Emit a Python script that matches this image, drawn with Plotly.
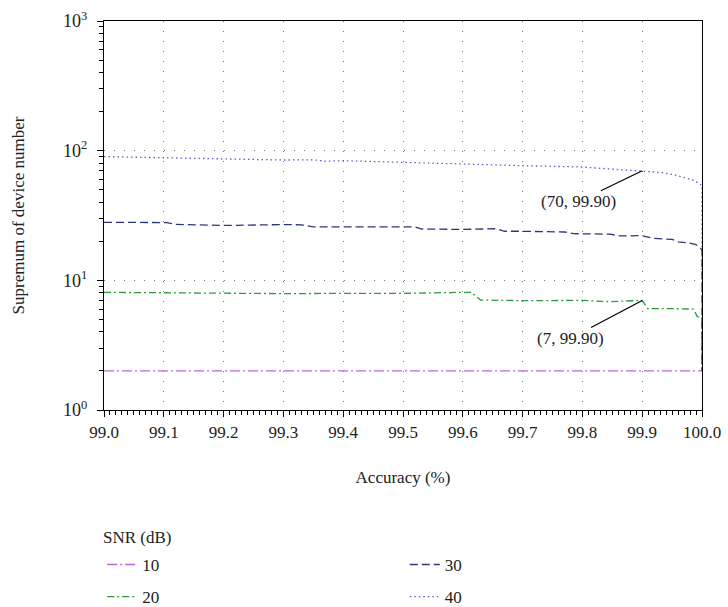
import math
import plotly.graph_objects as go

# Accuracy (%) and supremum of device number for each SNR level
acc_10 = [99.0, 99.5, 100.0]
dev_10 = [2, 2, 2]

acc_20 = [99.0, 99.1, 99.2, 99.3, 99.4, 99.5, 99.6, 99.614, 99.63, 99.7, 99.8, 99.846,
          99.90, 99.909, 99.95, 99.986, 99.992, 100.0, 100.0]
dev_20 = [8.08, 8.0, 7.89, 7.9, 7.93, 7.93, 8.08, 8.08, 7.05, 6.97, 7.0, 6.85,
          7.0, 6.05, 6.05, 6.0, 5.25, 5.2, 2]

acc_30 = [99.0, 99.105, 99.12, 99.2, 99.3, 99.33, 99.35, 99.4, 99.5, 99.52, 99.53, 99.6,
          99.655, 99.67, 99.7, 99.77, 99.785, 99.8, 99.846, 99.863, 99.9, 99.918, 99.95,
          99.96, 99.976, 99.99, 100.0, 100.0]
dev_30 = [28.0, 27.9, 27.0, 26.5, 26.9, 26.8, 25.8, 25.9, 25.9, 25.8, 24.9, 24.7,
          25.0, 23.9, 23.9, 23.6, 22.9, 22.9, 22.7, 22.0, 22.1, 21.1, 20.7,
          19.8, 19.5, 18.9, 17.2, 2]

acc_40 = [99.0, 99.1, 99.2, 99.3, 99.35, 99.37, 99.4, 99.5, 99.6, 99.7, 99.8, 99.85,
          99.90, 99.93, 99.955, 99.985, 100.0, 100.0]
dev_40 = [90, 87.8, 86, 84.7, 85, 83, 83.7, 80.8, 78.9, 76.6, 74.8, 72,
          70, 68, 65, 59.4, 54, 2]

# Labelled points: (device number, accuracy)
note_40 = (70, 99.90)
note_20 = (7, 99.90)

x_ticks = [99.0, 99.1, 99.2, 99.3, 99.4, 99.5, 99.6, 99.7, 99.8, 99.9, 100.0]
y_ticks = [1, 10, 100, 1000]
y_tick_text = ["10<sup>0</sup>", "10<sup>1</sup>", "10<sup>2</sup>", "10<sup>3</sup>"]

FONT = "Liberation Serif"
TEXT = "#222"

series = [
    ("10", acc_10, dev_10, "#bb66d6", "10px,3px,2px,3px", "legend", 1),
    ("20", acc_20, dev_20, "#2f9a3e", "7px,3px,2px,3px", "legend", 2),
    ("30", acc_30, dev_30, "#2d3580", "8px,4px", "legend2", 1),
    ("40", acc_40, dev_40, "#5a5acf", "1.5px,3px", "legend2", 2),
]

fig = go.Figure()
for name, xs, ys, color, dash, leg, rank in series:
    fig.add_trace(go.Scatter(
        x=xs, y=ys, mode="lines", name=name,
        line=dict(color=color, width=1.3, dash=dash),
        legend=leg, legendgroup=name, legendrank=rank,
    ))

# Callouts for the labelled points
for (val, acc), txt_dx, txt_dy in [(note_40, -64, 31), (note_20, -72, 38)]:
    fig.add_annotation(
        x=acc, y=math.log10(val), xref="x", yref="y",
        text=f"({val}, {acc:.2f})", showarrow=True, arrowhead=0,
        arrowwidth=1.2, arrowcolor="black", ax=txt_dx, ay=txt_dy,
        font=dict(family=FONT, size=17, color=TEXT),
    )

# Heading above the two legend columns
fig.add_annotation(
    x=-0.005, y=-0.327, xref="paper", yref="paper", xanchor="left", yanchor="middle",
    text="SNR (dB)", showarrow=False, font=dict(family=FONT, size=17, color=TEXT),
)

axis_common = dict(
    showline=True, linecolor="black", linewidth=1.3, mirror=True,
    ticks="outside", tickcolor="black", ticklen=6, tickwidth=1,
    showgrid=True, gridcolor="#777", gridwidth=1, griddash="1px,9px",
    zeroline=False,
)

fig.update_xaxes(
    **axis_common,
    tickfont=dict(family=FONT, size=17, color=TEXT),
    range=[99.0, 100.0], tickvals=x_ticks, ticktext=[f"{v:.1f}" for v in x_ticks],
    minor=dict(dtick=0.01, tick0=99.0, ticks="outside", ticklen=4, tickcolor="black", showgrid=False),
    title=dict(text="Accuracy (%)", font=dict(family=FONT, size=17, color=TEXT), standoff=30),
)
fig.update_yaxes(
    **axis_common,
    tickfont=dict(family=FONT, size=18, color=TEXT), ticklabelstandoff=6,
    type="log", range=[0, 3], tickvals=y_ticks, ticktext=y_tick_text,
    minor=dict(dtick="D1", ticks="outside", ticklen=4, tickcolor="black", showgrid=False),
    title=dict(text="Supremum of device number", font=dict(family=FONT, size=17, color=TEXT), standoff=34),
)

legend_common = dict(
    orientation="v", xanchor="left", yanchor="top",
    font=dict(family=FONT, size=17, color=TEXT), tracegroupgap=7,
    bgcolor="rgba(0,0,0,0)",
)
fig.update_layout(
    width=728, height=607,
    margin=dict(l=104, r=26, t=21, b=197, autoexpand=False),
    paper_bgcolor="white", plot_bgcolor="white",
    font=dict(family=FONT, size=17, color=TEXT),
    legend=dict(**legend_common, x=-0.003, y=-0.352),
    legend2=dict(**legend_common, x=0.503, y=-0.352),
)

fig.write_html("out.html")
